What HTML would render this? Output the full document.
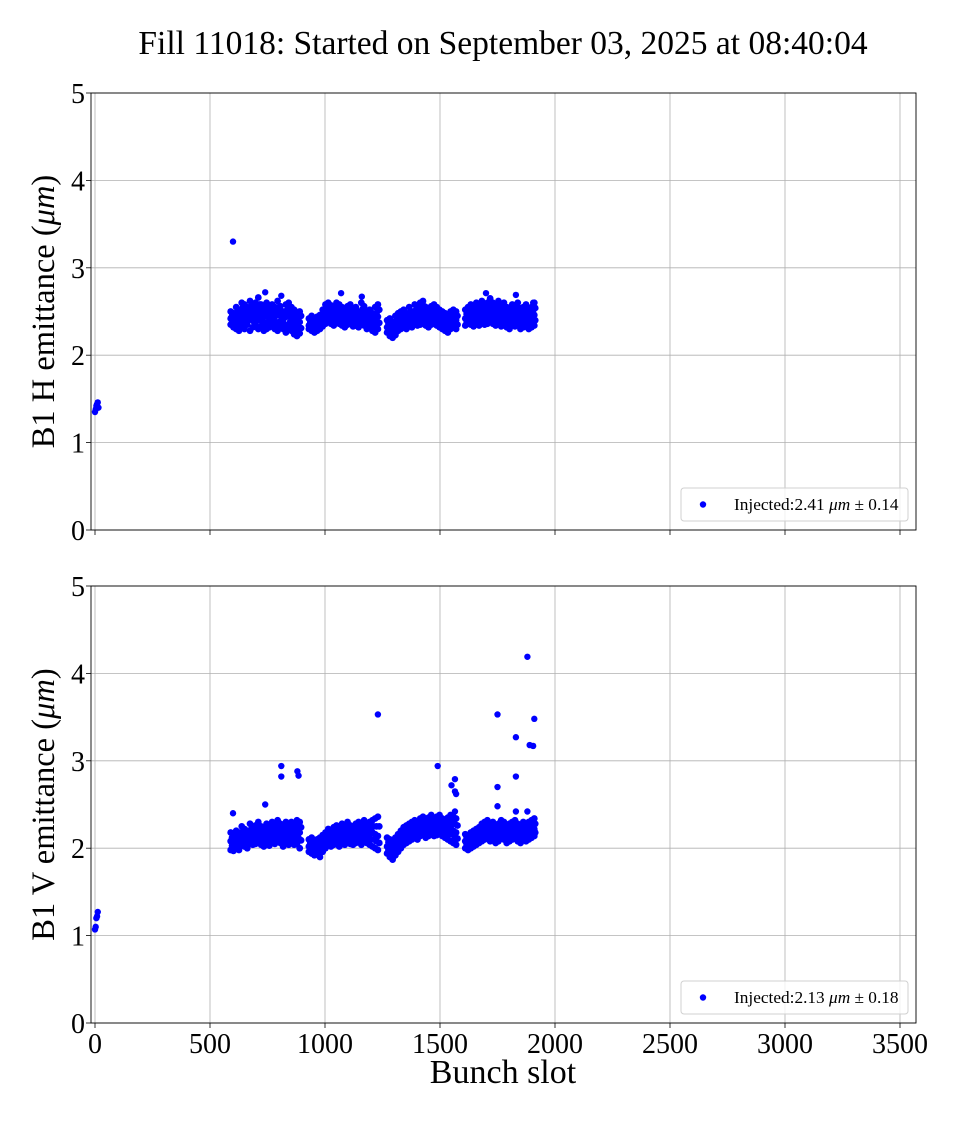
<!DOCTYPE html>
<html><head><meta charset="utf-8"><style>
body{margin:0;background:#fff;}
svg text{font-family:"Liberation Serif","DejaVu Serif",serif;fill:#000;}
</style></head><body>
<svg id="chart" width="960" height="1120" viewBox="0 0 960 1120" xmlns="http://www.w3.org/2000/svg">
<rect width="960" height="1120" fill="#fff"/>
<text x="503" y="54" font-size="33.5" text-anchor="middle">Fill 11018: Started on September 03, 2025 at 08:40:04</text>
<g id="plots"></g>
</svg>
<script>
const xTicks=[0,500,1000,1500,2000,2500,3000,3500];
const yTicks=[0,1,2,3,4,5];
const slots=[590,602,614,626,638,650,662,674,686,698,710,722,734,746,758,770,782,794,806,818,830,842,854,866,878,890,
930,942,954,966,978,990,1002,1014,1026,1038,1050,1062,1074,1086,1098,1110,1122,1134,1146,1158,1170,1182,1194,1206,1218,1230,
1270,1282,1294,1306,1318,1330,1342,1354,1366,1378,1390,1402,1414,1426,1438,1450,1462,1474,1486,1498,1510,1522,1534,1546,1558,1570,
1610,1622,1634,1646,1658,1670,1682,1694,1706,1718,1730,1742,1754,1766,1778,1790,1802,1814,1826,1838,1850,1862,1874,1886,1898,1910];
const slotsB=[596,608,620,632,644,656,668,680,692,704,716,728,740,752,764,776,788,800,812,824,836,848,860,872,884,896,
936,948,960,972,984,996,1008,1020,1032,1044,1056,1068,1080,1092,1104,1116,1128,1140,1152,1164,1176,1188,1200,1212,1224,1236,
1276,1288,1300,1312,1324,1336,1348,1360,1372,1384,1396,1408,1420,1432,1444,1456,1468,1480,1492,1504,1516,1528,1540,1552,1564,1576,
1616,1628,1640,1652,1664,1676,1688,1700,1712,1724,1736,1748,1760,1772,1784,1796,1808,1820,1832,1844,1856,1868,1880,1892,1904,1914];
const hUpper=[2.50,2.48,2.55,2.52,2.60,2.58,2.55,2.62,2.57,2.60,2.66,2.58,2.55,2.60,2.52,2.58,2.55,2.62,2.56,2.50,2.58,2.60,2.55,2.52,2.48,2.50,
2.42,2.45,2.40,2.44,2.46,2.52,2.58,2.60,2.57,2.55,2.60,2.58,2.55,2.52,2.56,2.58,2.52,2.55,2.50,2.60,2.56,2.50,2.52,2.48,2.55,2.58,
2.40,2.42,2.38,2.45,2.48,2.50,2.52,2.48,2.55,2.50,2.58,2.55,2.60,2.62,2.55,2.52,2.56,2.58,2.55,2.52,2.50,2.48,2.45,2.50,2.52,2.50,
2.52,2.55,2.58,2.55,2.60,2.56,2.62,2.58,2.60,2.65,2.60,2.58,2.62,2.56,2.60,2.55,2.52,2.58,2.55,2.60,2.52,2.55,2.58,2.50,2.55,2.60];
const hQ1=[2.45,2.47,2.50,2.44,2.55,2.50,2.48,2.56,2.52,2.55,2.58,2.50,2.52,2.54,2.47,2.50,2.52,2.55,2.50,2.46,2.52,2.53,2.48,2.45,2.43,2.45,
2.38,2.40,2.36,2.40,2.42,2.47,2.52,2.55,2.52,2.50,2.55,2.52,2.50,2.48,2.50,2.53,2.47,2.50,2.45,2.53,2.50,2.45,2.47,2.44,2.48,2.52,
2.36,2.35,2.33,2.40,2.42,2.45,2.47,2.44,2.50,2.46,2.52,2.50,2.53,2.56,2.50,2.47,2.50,2.52,2.50,2.47,2.45,2.43,2.40,2.45,2.47,2.45,
2.47,2.50,2.52,2.50,2.54,2.50,2.56,2.53,2.55,2.58,2.54,2.52,2.56,2.50,2.54,2.50,2.47,2.52,2.50,2.54,2.47,2.50,2.52,2.45,2.50,2.54];
const hMid=[2.42,2.40,2.45,2.42,2.48,2.45,2.44,2.50,2.46,2.48,2.52,2.46,2.44,2.48,2.42,2.45,2.44,2.48,2.45,2.40,2.44,2.46,2.42,2.40,2.36,2.38,
2.34,2.36,2.32,2.35,2.38,2.42,2.46,2.50,2.48,2.46,2.48,2.46,2.45,2.42,2.44,2.46,2.42,2.44,2.40,2.46,2.44,2.40,2.42,2.38,2.40,2.44,
2.32,2.30,2.28,2.32,2.36,2.40,2.42,2.40,2.44,2.42,2.46,2.44,2.46,2.48,2.44,2.42,2.45,2.46,2.44,2.42,2.40,2.38,2.36,2.40,2.42,2.40,
2.42,2.44,2.46,2.44,2.48,2.45,2.50,2.47,2.48,2.52,2.48,2.46,2.50,2.45,2.48,2.44,2.42,2.46,2.44,2.47,2.42,2.44,2.46,2.40,2.44,2.46];
const hQ2=[2.38,2.36,2.37,2.35,2.40,2.38,2.40,2.42,2.38,2.42,2.40,2.39,2.36,2.38,2.37,2.40,2.36,2.38,2.39,2.35,2.34,2.38,2.35,2.31,2.29,2.31,
2.31,2.32,2.29,2.31,2.34,2.37,2.41,2.44,2.42,2.40,2.43,2.41,2.39,2.37,2.39,2.41,2.37,2.39,2.36,2.41,2.39,2.35,2.37,2.33,2.33,2.37,
2.29,2.26,2.24,2.27,2.32,2.35,2.37,2.35,2.40,2.37,2.41,2.39,2.41,2.43,2.39,2.37,2.40,2.41,2.39,2.37,2.35,2.33,2.31,2.35,2.37,2.35,
2.38,2.40,2.41,2.38,2.42,2.39,2.44,2.41,2.42,2.46,2.42,2.40,2.44,2.39,2.42,2.38,2.36,2.40,2.39,2.41,2.36,2.38,2.40,2.35,2.38,2.40];
const hLower=[2.35,2.32,2.30,2.28,2.34,2.30,2.35,2.28,2.32,2.35,2.30,2.33,2.28,2.30,2.32,2.35,2.30,2.28,2.33,2.30,2.26,2.30,2.28,2.24,2.22,2.25,
2.30,2.28,2.26,2.28,2.30,2.33,2.36,2.38,2.36,2.34,2.38,2.36,2.34,2.32,2.35,2.36,2.33,2.34,2.32,2.36,2.34,2.30,2.33,2.28,2.26,2.30,
2.26,2.22,2.20,2.23,2.28,2.30,2.33,2.30,2.35,2.32,2.36,2.34,2.35,2.38,2.34,2.32,2.35,2.36,2.34,2.32,2.30,2.28,2.26,2.30,2.32,2.30,
2.34,2.36,2.35,2.33,2.36,2.34,2.38,2.35,2.36,2.40,2.36,2.34,2.38,2.33,2.36,2.32,2.30,2.34,2.33,2.35,2.30,2.32,2.34,2.30,2.32,2.34];
const hExtraX=[0,3,6,9,12,15,600,740,810,1070,1160,1700,1830,1905];
const hExtraY=[1.35,1.38,1.42,1.44,1.46,1.40,3.30,2.72,2.68,2.71,2.67,2.71,2.69,2.60];
const vUpper=[2.18,2.16,2.20,2.18,2.25,2.22,2.20,2.28,2.24,2.26,2.30,2.25,2.22,2.28,2.24,2.30,2.26,2.32,2.28,2.24,2.30,2.26,2.30,2.28,2.32,2.30,
2.10,2.12,2.08,2.10,2.12,2.15,2.18,2.22,2.20,2.24,2.26,2.22,2.28,2.25,2.30,2.26,2.24,2.28,2.30,2.26,2.32,2.28,2.30,2.32,2.34,2.36,
2.12,2.10,2.08,2.12,2.16,2.20,2.24,2.26,2.28,2.30,2.32,2.30,2.34,2.36,2.32,2.35,2.38,2.34,2.36,2.38,2.34,2.32,2.35,2.38,2.36,2.34,
2.16,2.14,2.18,2.20,2.22,2.24,2.28,2.30,2.32,2.28,2.30,2.26,2.28,2.32,2.30,2.26,2.28,2.30,2.32,2.28,2.26,2.30,2.28,2.30,2.32,2.34];
const vQ1=[2.12,2.11,2.15,2.13,2.19,2.17,2.15,2.22,2.19,2.20,2.24,2.19,2.17,2.22,2.18,2.24,2.20,2.26,2.22,2.18,2.24,2.20,2.24,2.22,2.26,2.24,
2.06,2.06,2.03,2.05,2.07,2.10,2.13,2.17,2.15,2.18,2.20,2.16,2.21,2.18,2.23,2.20,2.18,2.21,2.23,2.19,2.25,2.21,2.23,2.25,2.25,2.25,
2.07,2.04,2.02,2.06,2.10,2.14,2.18,2.20,2.22,2.24,2.26,2.24,2.28,2.30,2.26,2.28,2.31,2.28,2.30,2.31,2.28,2.26,2.28,2.31,2.28,2.26,
2.12,2.10,2.13,2.15,2.17,2.19,2.22,2.24,2.26,2.22,2.24,2.20,2.22,2.26,2.24,2.20,2.22,2.24,2.26,2.22,2.20,2.24,2.22,2.24,2.26,2.28];
const vMid=[2.08,2.06,2.10,2.08,2.14,2.12,2.10,2.16,2.14,2.15,2.18,2.14,2.12,2.16,2.13,2.18,2.15,2.20,2.16,2.12,2.18,2.14,2.18,2.16,2.20,2.18,
2.02,2.00,1.98,2.00,2.02,2.05,2.08,2.12,2.10,2.12,2.14,2.10,2.15,2.12,2.16,2.13,2.12,2.14,2.16,2.12,2.18,2.14,2.16,2.18,2.16,2.14,
2.02,1.98,1.96,2.00,2.04,2.08,2.12,2.14,2.16,2.18,2.20,2.18,2.22,2.24,2.20,2.22,2.25,2.22,2.24,2.25,2.22,2.20,2.22,2.24,2.20,2.18,
2.08,2.06,2.08,2.10,2.12,2.14,2.16,2.18,2.20,2.16,2.18,2.15,2.16,2.20,2.18,2.15,2.16,2.18,2.20,2.16,2.14,2.18,2.16,2.18,2.20,2.22];
const vQ2=[2.03,2.02,2.05,2.03,2.09,2.07,2.05,2.11,2.09,2.10,2.13,2.09,2.07,2.11,2.08,2.13,2.10,2.15,2.11,2.07,2.13,2.09,2.12,2.10,2.12,2.09,
1.99,1.97,1.95,1.96,1.96,2.00,2.04,2.08,2.06,2.08,2.10,2.06,2.10,2.08,2.12,2.09,2.08,2.10,2.12,2.08,2.14,2.10,2.10,2.10,2.08,2.06,
1.98,1.94,1.91,1.96,2.00,2.04,2.08,2.10,2.12,2.14,2.16,2.14,2.18,2.20,2.16,2.18,2.20,2.18,2.20,2.20,2.18,2.16,2.16,2.16,2.13,2.11,
2.04,2.02,2.04,2.06,2.08,2.10,2.12,2.14,2.16,2.12,2.14,2.10,2.12,2.16,2.14,2.10,2.12,2.14,2.16,2.12,2.10,2.14,2.12,2.14,2.16,2.18];
const vLower=[1.98,1.97,2.00,1.98,2.04,2.02,2.00,2.06,2.04,2.05,2.08,2.04,2.02,2.06,2.03,2.08,2.05,2.10,2.06,2.02,2.08,2.04,2.06,2.04,2.05,2.00,
1.96,1.94,1.92,1.93,1.90,1.96,2.00,2.04,2.02,2.04,2.06,2.02,2.06,2.04,2.08,2.05,2.04,2.06,2.08,2.04,2.10,2.06,2.04,2.02,2.00,1.98,
1.94,1.90,1.87,1.92,1.96,2.00,2.04,2.06,2.08,2.10,2.12,2.10,2.14,2.15,2.12,2.14,2.16,2.14,2.15,2.16,2.14,2.12,2.10,2.08,2.06,2.04,
2.00,1.98,2.00,2.02,2.04,2.06,2.08,2.10,2.12,2.08,2.10,2.06,2.08,2.12,2.10,2.06,2.08,2.10,2.12,2.08,2.06,2.10,2.08,2.10,2.12,2.14];
const vExtraX=[0,3,6,9,12,600,740,810,810,880,885,1230,1490,1550,1565,1565,1570,1565,1750,1750,1750,1830,1830,1830,1880,1880,1890,1905,1910];
const vExtraY=[1.07,1.10,1.20,1.22,1.27,2.40,2.50,2.94,2.82,2.88,2.83,3.53,2.94,2.72,2.79,2.65,2.62,2.42,3.53,2.70,2.48,3.27,2.82,2.42,4.19,2.42,3.18,3.17,3.48];

const NS='http://www.w3.org/2000/svg';
const g=document.getElementById('plots');
const X0=91,X1=916;
function xs(v){return 95+v*0.23;}
function mk(tag,attrs,parent){const e=document.createElementNS(NS,tag);for(const k in attrs)e.setAttribute(k,attrs[k]);parent.appendChild(e);return e;}

function plot(top,bottom,label,sets,extraX,extraY,legendText,showX,key){
  const ys=v=>bottom-(v/5)*(bottom-top);
  const pg=mk('g',{},g);
  
  
  xTicks.forEach(t=>{
    const x=xs(t);
    const gl=mk('line',{x1:x,x2:x,y1:top,y2:bottom,stroke:'#b0b0b0','stroke-width':0.8},pg);
    
    
    mk('line',{x1:x,x2:x,y1:bottom,y2:bottom+5,stroke:'#000','stroke-width':0.8},pg);
    if(showX){
      const tx=mk('text',{x:x,y:bottom+30,'font-size':28,'text-anchor':'middle'},pg);
      tx.textContent=t;
      
      
    }
  });
  yTicks.forEach(t=>{
    const y=ys(t);
    const gl=mk('line',{x1:X0,x2:X1,y1:y,y2:y,stroke:'#b0b0b0','stroke-width':0.8},pg);
    
    
    mk('line',{x1:X0-5,x2:X0,y1:y,y2:y,stroke:'#000','stroke-width':0.8},pg);
    const tx=mk('text',{x:X0-6,y:y+10,'font-size':28,'text-anchor':'end'},pg);
    tx.textContent=t;
    
    
  });
  const pts=mk('g',{fill:'#0000ff'},pg);
  
  
  sets.forEach((arr,k)=>{
    const sx=(k%2===0)?slots:slotsB;
    arr.forEach((v,i)=>{
      const c=mk('circle',{cx:xs(sx[i]),cy:ys(v),r:3.4},pts);
      
      
    });
  });
  extraX.forEach((sx,i)=>{
    const c=mk('circle',{cx:xs(sx),cy:ys(extraY[i]),r:3.2},pts);
    
    
  });
  const fr=mk('rect',{x:X0,y:top,width:X1-X0,height:bottom-top,fill:'none',stroke:'#000','stroke-width':0.9},pg);
  
  
  const yl=mk('text',{x:0,y:0,'font-size':32.5,'text-anchor':'middle',transform:`translate(54,${(top+bottom)/2}) rotate(-90)`},pg);
  yl.innerHTML=label;
  
  
  const lg=mk('g',{},pg);
  
  
  mk('rect',{x:681,y:bottom-42,width:227,height:33,rx:3,fill:'#fff','fill-opacity':0.8,stroke:'#d0d0d0'},lg);
  mk('circle',{cx:703,cy:bottom-25.5,r:3.2,fill:'#0000ff'},lg);
  const lt=mk('text',{x:734,y:bottom-20,'font-size':17.3},lg);
  lt.innerHTML=legendText;
  
  
}
plot(93,530,'B1 H emittance (<tspan font-style="italic">μm</tspan>)',[hUpper,hQ1,hMid,hQ2,hLower],hExtraX,hExtraY,'Injected:2.41 <tspan font-style="italic">μm</tspan> ± 0.14',false,'h-emittance');
plot(586,1023,'B1 V emittance (<tspan font-style="italic">μm</tspan>)',[vUpper,vQ1,vMid,vQ2,vLower],vExtraX,vExtraY,'Injected:2.13 <tspan font-style="italic">μm</tspan> ± 0.18',true,'v-emittance');
const xl=mk('text',{x:503,y:1083,'font-size':34,'text-anchor':'middle'},g);
xl.textContent='Bunch slot';


</script>
</body></html>
